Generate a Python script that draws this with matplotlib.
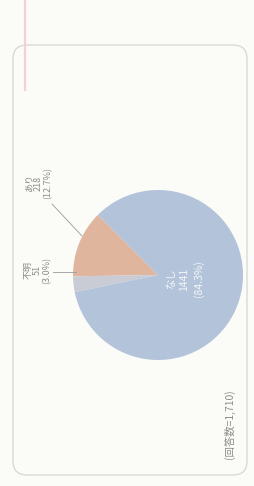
import matplotlib
matplotlib.use("Agg")
import matplotlib.pyplot as plt
from matplotlib.patches import FancyBboxPatch

plt.rcParams['font.family'] = ['Noto Sans CJK JP', 'DejaVu Sans']

categories = ["あり", "不明", "なし"]
counts = [218, 51, 1441]
percents = ["12.7%", "3.0%", "84.3%"]
total_label = "(回答数=1,710)"
colors = ["#dfb59e", "#c9ccd5", "#b2c3da"]

W, H = 254, 486
fig = plt.figure(figsize=(W / 100, H / 100), dpi=100)
fig.patch.set_facecolor("#fbfbf8")
ax = fig.add_axes([0, 0, 1, 1])

# frame of the page box
box = FancyBboxPatch((13, 11), 234, 430, boxstyle="round,pad=0,rounding_size=14",
                     fill=False, ec="#d6d6d4", lw=0.9)
ax.add_patch(box)
ax.plot([25, 25], [H, H - 90], color="#f5d0d6", lw=1.6)

cx, cy, r = 158, H - 275, 85
wedges, _ = ax.pie(counts, colors=colors, startangle=135, counterclock=True,
                   center=(cx, cy), radius=r, frame=True,
                   wedgeprops=dict(linewidth=0))
ax.set_xlim(0, W)
ax.set_ylim(0, H)
ax.set_aspect("equal")
ax.axis("off")

lab_fs = 6.5
kw = dict(rotation=90, ha="center", va="center", multialignment="center",
          fontsize=lab_fs, color="#8c8c8c", linespacing=1.05)
# あり label
ax.text(38, H - 183, f"{categories[0]}\n{counts[0]}\n({percents[0]})", **kw)
ax.plot([52, 82], [H - 204, H - 236], color="#9a9a9a", lw=0.6)
# 不明 label
ax.text(37, H - 270, f"{categories[1]}\n{counts[1]}\n({percents[1]})", **kw)
ax.plot([53, 76], [H - 272, H - 272], color="#9a9a9a", lw=0.6)
# なし label
ax.text(185, H - 279, f"{categories[2]}\n{counts[2]}\n({percents[2]})", rotation=90,
        ha="center", va="center", multialignment="center",
        fontsize=7.5, color="#f4f6fa", linespacing=1.45)
# total
ax.text(229, H - 424, total_label, rotation=90, ha="center", va="center",
        fontsize=7.5, color="#8c8c8c")

fig.savefig("out.png", dpi=100, facecolor=fig.get_facecolor())
